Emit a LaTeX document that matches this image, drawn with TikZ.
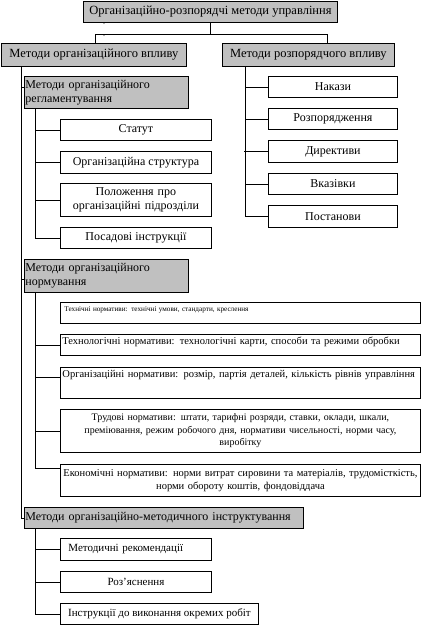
\documentclass[tikz,border=0pt]{standalone}
\usepackage{fontspec}
\setmainfont{Liberation Serif}
\usepackage{xcolor}
\usepackage{tikz}
\usetikzlibrary{positioning}
\definecolor{boxgray}{RGB}{192,192,192}

\begin{document}
\begin{tikzpicture}[x=1pt, y=-1pt,
    box/.style={draw, rectangle, line width=0.9pt, inner sep=1pt, anchor=north west, font=\fontsize{12}{14}\selectfont},
    graybox/.style={box, fill=boxgray},
    normbox/.style={box, text width=356, inner xsep=2, font=\fontsize{10.5}{12.5}\selectfont},
    link/.style={line width=0.9pt}]
      \useasboundingbox (0,0) rectangle (421,638);

      % top levels
      \node[graybox, minimum width=254, minimum height=21, font=\fontsize{12.5}{14}\selectfont] (top) at (83,1) {Організаційно-розпорядчі методи управління};
      \node[graybox, minimum width=185, minimum height=23, font=\fontsize{12.5}{14}\selectfont] (orgv) at (1,43) {Методи організаційного впливу};
      \node[graybox, minimum width=172, minimum height=23, font=\fontsize{12.5}{14}\selectfont] (rozv) at (222,43) {Методи розпорядчого впливу};
      \node[inner sep=0, font=\fontsize{8}{8}\selectfont] (dot1) at (104,24) {.};
      \node[inner sep=0, font=\fontsize{8}{8}\selectfont] (dot2) at (104,36) {.};

      \draw[link] (top.south) -- ++(0,12) coordinate (split);
      \draw[link] ([xshift=1.5]orgv.north) |- (split) -| ([xshift=19]rozv.north);

      % regulation
      \node[graybox, text width=162, align=left, minimum height=32] (reg) at (24,76) {Методи організаційного\\регламентування};
      \node[box, minimum width=151, minimum height=21] (statut) at (60,119) {Статут};
      \node[box, minimum width=151, minimum height=22] (struct) at (60,151) {Організаційна структура};
      \node[box, text width=149, align=center, minimum height=33, font=\fontsize{12}{13.5}\selectfont] (polozh) at (60,183) {Положення про\\організаційні підрозділи};
      \node[box, minimum width=151, minimum height=21] (posad) at (60,227) {Посадові інструкції};

      % orders
      \node[box, minimum width=129, minimum height=21] (nakazy) at (268,76) {Накази};
      \node[box, minimum width=129, minimum height=21] (rozp) at (268,108) {Розпорядження};
      \node[box, minimum width=129, minimum height=22] (dyr) at (268,140) {Директиви};
      \node[box, minimum width=129, minimum height=21] (vkaz) at (268,173) {Вказівки};
      \node[box, minimum width=129, minimum height=22] (postan) at (268,205) {Постанови};

      % norms
      \node[graybox, text width=162, align=left, minimum height=33] (norm) at (24,259) {Методи організаційного\\нормування};
      \node[normbox, align=left, inner ysep=2, text height=7, text depth=10, inner xsep=4, text width=352, font=\fontsize{7.2}{9}\selectfont] (tech) at (60,302) {Технічні нормативи: технічні умови, стандарти, креслення};
      \node[normbox, align=left, inner ysep=2, text height=8, text depth=9] (techn) at (60,334) {Технологічні нормативи: технологічні карти, способи та режими обробки};
      \node[normbox, align=left, inner ysep=1, text height=9, text depth=20] (orgn) at (60,367) {Організаційні нормативи: розмір, партія деталей, кількість рівнів управління};
      \node[normbox, align=center, minimum height=43, font=\fontsize{10}{12.5}\selectfont] (trud) at (60,409) {Трудові нормативи: штати, тарифні розряди, ставки, оклади, шкали,\\преміювання, режим робочого дня, нормативи чисельності, норми часу,\\виробітку};
      \node[normbox, align=center, minimum height=32] (ekon) at (60,464) {Економічні нормативи: норми витрат сировини та матеріалів, трудомісткість,\\норми обороту коштів, фондовіддача};

      % instructing
      \node[graybox, text width=277, align=left, minimum height=21] (instr) at (24,507) {Методи організаційно-методичного інструктування};
      \node[box, text width=135, inner xsep=8, align=left, minimum height=22, font=\fontsize{11}{13}\selectfont] (metod) at (60,538) {Методичні рекомендації};
      \node[box, minimum width=151, minimum height=21, font=\fontsize{11}{13}\selectfont] (rozyasn) at (60,571) {Роз’яснення};
      \node[box, minimum width=198, minimum height=21, font=\fontsize{11}{13}\selectfont] (instrk) at (60,603) {Інструкції до виконання окремих робіт};

      % left trunk
      \coordinate (orgbus) at ([xshift=20]orgv.south west);
      \draw[link] (orgbus) |- (instr.west);
      \draw[link] ([yshift=5]reg.west) -- ++(-3,0);
      \draw[link] ([yshift=-3.5]norm.west) -- ++(-3,0);

      \coordinate (regbus) at ([xshift=11]reg.south west);
      \draw[link] (regbus) |- (posad.west);
      \draw[link] (statut.west) -- (statut.west -| regbus);
      \draw[link] (struct.west) -- (struct.west -| regbus);
      \draw[link] (polozh.west) -- (polozh.west -| regbus);

      \coordinate (normbus) at ([xshift=11]norm.south west);
      \draw[link] (normbus) |- ([yshift=12]ekon.west);
      \draw[link] (techn.west) -- (techn.west -| normbus);
      \draw[link] ([yshift=5.5]orgn.west) -- ++(-25,0);
      \draw[link] (trud.west) -- (trud.west -| normbus);

      \coordinate (instrbus) at ([xshift=11]instr.south west);
      \draw[link] (instrbus) |- (instrk.west);
      \draw[link] (metod.west) -- (metod.west -| instrbus);
      \draw[link] (rozyasn.west) -- (rozyasn.west -| instrbus);

      % right trunk
      \coordinate (rozbus) at ([xshift=23.5]rozv.south west);
      \draw[link] (rozbus) |- (postan.west);
      \draw[link] (nakazy.west) -- (nakazy.west -| rozbus);
      \draw[link] (rozp.west) -- (rozp.west -| rozbus);
      \draw[link] (dyr.west) -- ++(-24.5,0);
      \draw[link] (vkaz.west) -- (vkaz.west -| rozbus);
    \end{tikzpicture}
\end{document}
